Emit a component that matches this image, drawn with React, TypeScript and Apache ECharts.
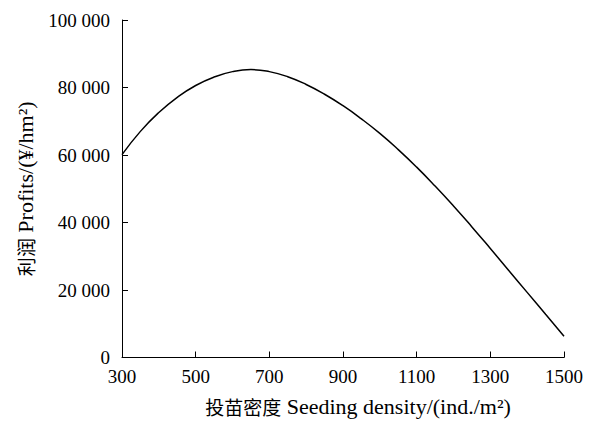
import React, { useEffect, useRef } from "react";
import * as echarts from "echarts";

const densities = [300, 350, 400, 450, 500, 550, 600, 650, 700, 750, 800, 850, 900, 950, 1000, 1050, 1100, 1150, 1200, 1250, 1300, 1350, 1400, 1450, 1500];
const profits = [60100, 67000, 72600, 77100, 80600, 83100, 84700, 85300, 84700, 83200, 80900, 78000, 74600, 70700, 66400, 61600, 56400, 50800, 44900, 38700, 32300, 25800, 19300, 12800, 6300];
const xTicks = [300, 500, 700, 900, 1100, 1300, 1500];
const yMax = 100000;
const yStep = 20000;
const xTitleCn = "投苗密度";
const xTitleEn = "Seeding density/(ind./m²)";
const yTitleCn = "利润";
const yTitleEn = "Profits/(¥/hm²)";

const SERIF = "'Times New Roman', 'Liberation Serif', serif";
const CJK = "'Noto Sans CJK SC', sans-serif";

export default function App() {
  const ref = useRef<HTMLDivElement>(null);
  useEffect(() => {
    if (!ref.current) return;
    const chart = echarts.init(ref.current, undefined, { renderer: "svg" });
    const x0 = xTicks[0];
    const xSpan = xTicks[xTicks.length - 1] - x0;
    const xStep = xTicks[1] - xTicks[0];
    const rich = {
      c: { fontFamily: CJK, fontSize: 19, color: "#000" },
      l: { fontFamily: SERIF, fontSize: 22, color: "#000" },
    };
    chart.setOption({
      animation: false,
      backgroundColor: "#fff",
      grid: { left: 122, top: 20, right: 31, bottom: 66.5, containLabel: false },
      xAxis: {
        type: "value",
        min: 0,
        max: xSpan,
        interval: xStep,
        name: `{c|${xTitleCn}} {l|${xTitleEn}}`,
        nameLocation: "middle",
        nameGap: 38,
        nameTextStyle: { color: "#000", fontFamily: SERIF, fontSize: 22, padding: [0, 0, 0, 30], rich },
        axisLine: { lineStyle: { color: "#000", width: 1 } },
        axisTick: { inside: true, length: 6, lineStyle: { color: "#000" } },
        axisLabel: {
          color: "#000",
          fontFamily: SERIF,
          fontSize: 19,
          margin: 9,
          formatter: (v: number) => String(v + x0),
        },
        splitLine: { show: false },
      },
      yAxis: {
        type: "value",
        min: 0,
        max: yMax,
        interval: yStep,
        name: `{c|${yTitleCn}} {l|${yTitleEn}}`,
        nameLocation: "middle",
        nameGap: 86,
        nameTextStyle: { color: "#000", fontFamily: SERIF, fontSize: 22, rich },
        axisLine: { show: true, lineStyle: { color: "#000", width: 1 } },
        axisTick: { show: true, inside: true, length: 6, lineStyle: { color: "#000" } },
        axisLabel: {
          color: "#000",
          fontFamily: SERIF,
          fontSize: 19,
          margin: 12,
          formatter: (v: number) =>
            v >= 1000 ? `${Math.floor(v / 1000)} ${String(v % 1000).padStart(3, "0")}` : String(v),
        },
        splitLine: { show: false },
      },
      series: [
        {
          type: "line",
          smooth: true,
          showSymbol: false,
          symbol: "none",
          lineStyle: { color: "#000", width: 1.5 },
          data: densities.map((d, i) => [d - x0, profits[i]]),
        },
      ],
    });
    return () => chart.dispose();
  }, []);
  return (
    <div
      ref={ref}
      style={{ position: "absolute", left: 0, top: 0, width: 595, height: 424 }}
    />
  );
}
